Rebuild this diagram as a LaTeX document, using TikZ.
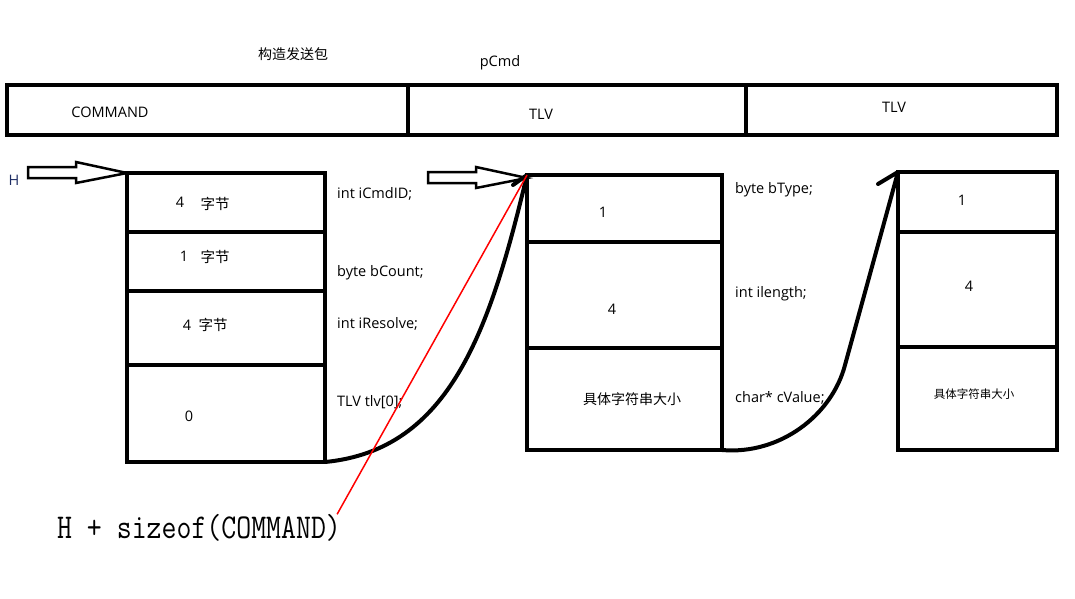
\documentclass[tikz,border=0pt]{standalone}
\usepackage{fontspec}
\setmainfont{Open Sans}
\newfontfamily\cjk{Noto Sans CJK SC}
\usetikzlibrary{positioning}

\tikzset{
  cell/.style={draw, line width=4pt, minimum width=#1, inner sep=0pt, outer sep=0pt},
  field/.style={anchor=west, inner sep=0pt},
  link/.style={line width=4pt, line cap=round, line join=round},
  hollow/.style={draw, line width=2.5pt, fill=white, line join=miter},
  pointer/.style={red, line width=1.5pt}
}

\begin{document}
\begin{tikzpicture}[x=1pt, y=-1pt, font=\fontsize{14.5}{17}\selectfont]
\useasboundingbox (0,0) rectangle (1075,598);

% Kopfzeile pCmd
\node[font=\fontsize{14}{17}\selectfont] (title) at (293,54) {\cjk 构造发送包};
\node (pcmd) at (500,63) {pCmd};
\node[cell=401pt, minimum height=50pt, anchor=north west] (bar1) at (7,85) {};
\node[cell=338pt, minimum height=50pt, right=0pt of bar1] (bar2) {};
\node[cell=311pt, minimum height=50pt, right=0pt of bar2] (bar3) {};
\node at (110,112) {COMMAND};
\node at (541,114) {TLV};
\node at (894,107) {TLV};

% COMMAND
\node[cell=198pt, minimum height=59pt, anchor=north west] (cmd1) at (127,173) {};
\node[cell=198pt, minimum height=59pt, below=0pt of cmd1] (cmd2) {};
\node[cell=198pt, minimum height=74pt, below=0pt of cmd2] (cmd3) {};
\node[cell=198pt, minimum height=97pt, below=0pt of cmd3] (cmd4) {};
\node at (180,202) {4};
\node at (215,204) {\cjk 字节};
\node at (184,256) {1};
\node at (215,257) {\cjk 字节};
\node at (187,325) {4};
\node at (213,325) {\cjk 字节};
\node at (189,416) {0};
\node[field] at (337,194) {int iCmdID;};
\node[field] at (337,273) {byte bCount;};
\node[field] at (337,324) {int iResolve;};
\node[field] at (337,402) {TLV tlv[0];};

% erstes TLV
\node[cell=195pt, minimum height=67pt, anchor=north west] (tlva1) at (527,175) {};
\node[cell=195pt, minimum height=106pt, below=0pt of tlva1] (tlva2) {};
\node[cell=195pt, minimum height=102pt, below=0pt of tlva2] (tlva3) {};
\node at (603,212) {1};
\node at (612,309) {4};
\node[font=\fontsize{14}{17}\selectfont] at (632,399) {\cjk 具体字符串大小};
\node[field] at (735,190) {byte bType;};
\node[field] at (735,294) {int ilength;};
\node[field] at (735,398) {char* cValue;};

% zweites TLV
\node[cell=159pt, minimum height=60pt, anchor=north west] (tlvb1) at (898,172) {};
\node[cell=159pt, minimum height=115pt, below=0pt of tlvb1] (tlvb2) {};
\node[cell=159pt, minimum height=103pt, below=0pt of tlvb2] (tlvb3) {};
\node at (962,200) {1};
\node at (969,286) {4};
\node[font=\fontsize{11.5}{14}\selectfont] at (974,394) {\cjk 具体字符串大小};

% Zeiger H
\node[text={rgb,255:red,30;green,45;blue,100}] (h) at (14,180) {H};
\draw[hollow] (cmd1.north west) -- ++(-51,-11) -- ++(0,5) -- ++(-48,0) -- ++(0,11)
  -- ++(48,0) -- ++(0,5) -- cycle;
\draw[hollow] ([yshift=-3pt]tlva1.north west) -- ++(-51,-11) -- ++(0,5) -- ++(-48,0) -- ++(0,11)
  -- ++(48,0) -- ++(0,5) -- cycle;

% Verbindungen
\draw[link] (cmd4.south east) .. controls (450,450) and (490,330) .. (tlva1.north west) -- ++(-14,10);
\draw[link] (tlva3.south east) .. controls (780,455) and (832,415) .. (845,365)
  -- (tlvb1.north west) -- ++(-20,12);

% H + sizeof(COMMAND)
\node[inner sep=0pt, font=\ttfamily\fontsize{29}{31}\selectfont] (hsz) at (199,528)
  {\scalebox{1}[1.2]{H + sizeof(COMMAND)}};
\draw[pointer] ([xshift=-4pt]hsz.north east) -- (tlva1.north west);
\end{tikzpicture}
\end{document}
